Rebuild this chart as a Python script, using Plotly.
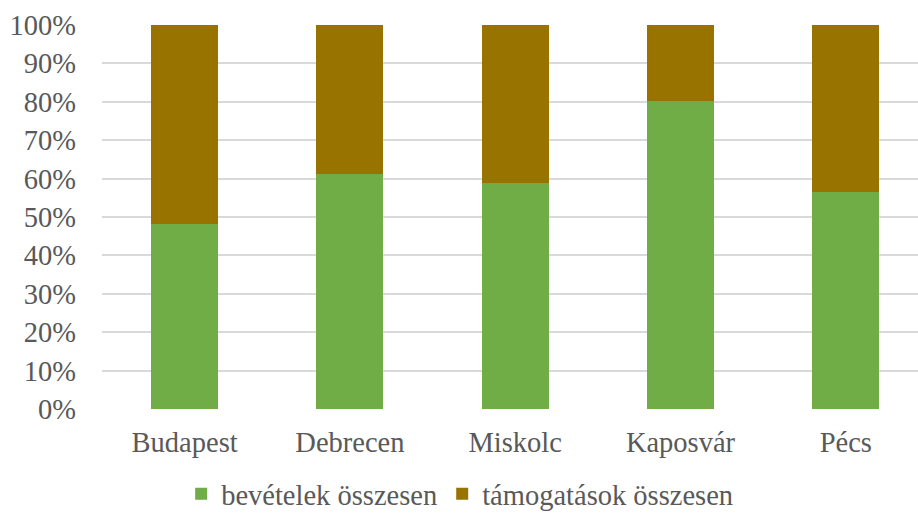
import plotly.graph_objects as go

cities = ["Budapest", "Debrecen", "Miskolc", "Kaposvár", "Pécs"]
bevetelek = [48.3, 61.2, 58.9, 80.3, 56.6]
tamogatasok = [100 - v for v in bevetelek]
series_names = ["bevételek összesen", "támogatások összesen"]
colors = ["#70AD47", "#997300"]
y_ticks = list(range(0, 101, 10))

fig = go.Figure()
fig.add_trace(go.Bar(x=cities, y=bevetelek, name=series_names[0],
                     marker=dict(color=colors[0], line=dict(width=0))))
fig.add_trace(go.Bar(x=cities, y=tamogatasok, name=series_names[1],
                     marker=dict(color=colors[1], line=dict(width=0))))

font_family = "'Liberation Serif', 'DejaVu Serif', serif"
tick_color = "#595959"
fig.update_layout(
    barmode="stack",
    bargap=0.595,
    width=918, height=513,
    margin=dict(l=102, r=0, t=25, b=104, pad=0, autoexpand=False),
    plot_bgcolor="white", paper_bgcolor="white",
    font=dict(family=font_family, size=28.5, color=tick_color),
    showlegend=True,
    legend=dict(orientation="h", x=0.097, xanchor="left", y=-0.222, yanchor="middle",
                font=dict(family=font_family, size=28.5, color=tick_color), itemwidth=30,
                traceorder="normal"),
)
fig.update_xaxes(range=[-0.5, 4.437], showgrid=False, showline=False, zeroline=False,
                 ticks="", ticklabelstandoff=13,
                 tickfont=dict(family=font_family, size=28.5, color=tick_color))
fig.update_yaxes(range=[0, 100], tickvals=y_ticks, ticktext=[f"{v}%" for v in y_ticks],
                 showgrid=True, gridcolor="#d9d9d9", gridwidth=1.5, zeroline=False,
                 showline=False, ticks="", ticklabelstandoff=25,
                 tickfont=dict(family=font_family, size=28.5, color=tick_color))

fig.write_html("out.html")
